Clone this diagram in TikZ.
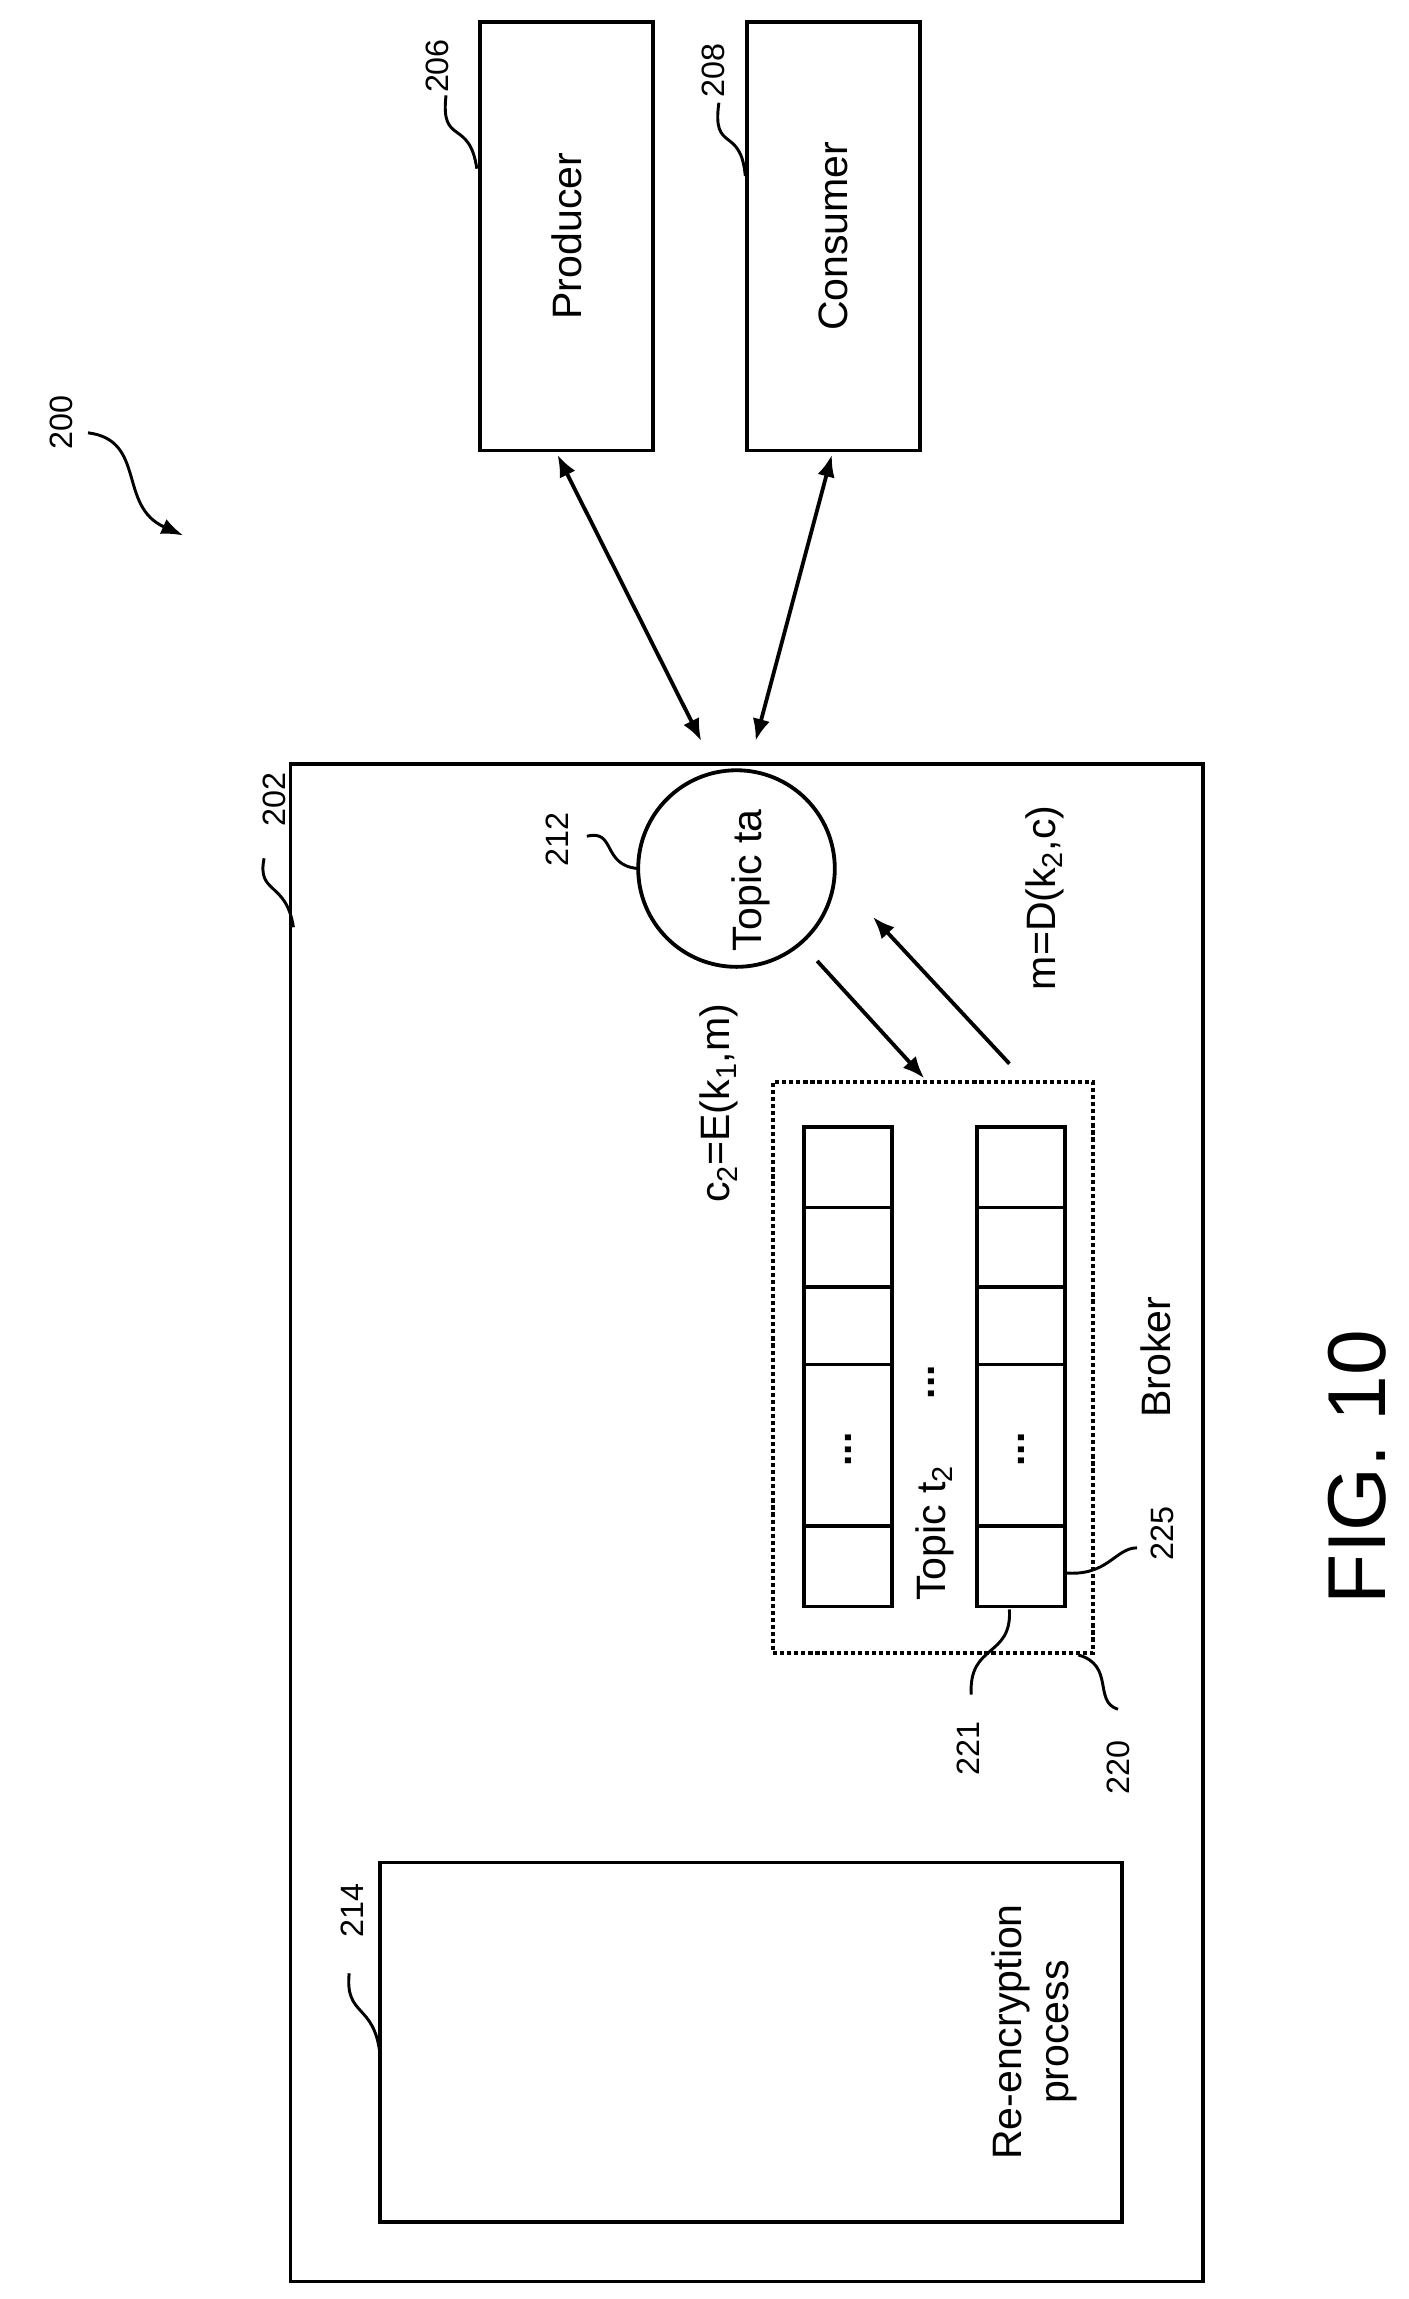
\documentclass[tikz,border=0pt]{standalone}
\usepackage{fontspec}
\setmainfont{Liberation Sans}
\usetikzlibrary{arrows.meta}
\begin{document}
\begin{tikzpicture}[x=1pt,y=-1pt,line width=2.6pt,
 bx/.style={draw,line width=2.6pt},
 lab/.style={rotate=90,font=\fontsize{22}{26}\selectfont},
 txt/.style={rotate=90,font=\fontsize{28}{32}\selectfont},
 sq/.style={line width=2pt},
 arr/.style={line width=2.6pt,-{Latex[length=15pt,width=12pt]}},
 darr/.style={line width=2.6pt,{Latex[length=15pt,width=12pt]}-{Latex[length=15pt,width=12pt]}}]
\useasboundingbox (0,0) rectangle (960,1567);
% outer
\node[bx,minimum width=622pt,minimum height=1034pt,inner sep=0] (b202) at (509,1038) {};
\node[bx,minimum width=118pt,minimum height=292pt,inner sep=0] (prod) at (386,161) {};
\node[txt] at (prod) {Producer};
\node[bx,minimum width=118pt,minimum height=292pt,inner sep=0] (cons) at (568,161) {};
\node[txt] at (cons) {Consumer};
\node[bx,circle,minimum size=134pt,inner sep=0] (topic) at (502,592) {};
\node[txt] at (512,600) {Topic ta};
\coordinate (p1) at (380,310); \coordinate (p2) at (478,505);
\coordinate (c1) at (567,310); \coordinate (c2) at (515,505);
\draw[darr] (p1) -- (p2);
\draw[darr] (c1) -- (c2);
\coordinate (a1) at (557,655); \coordinate (a2) at (630,735);
\coordinate (d1) at (688,725); \coordinate (d2) at (595,625);
\draw[arr] (a1) -- (a2);
\draw[arr] (d1) -- (d2);
\node[txt] at (490,752) {c\textsubscript{2}=E(k\textsubscript{1},m)};
\node[txt] at (712,612) {m=D(k\textsubscript{2},c)};
% broker
\node[draw,dotted,line width=2.8pt,minimum width=218pt,minimum height=389pt,inner sep=0] (b220) at (636,932) {};
\foreach \x/\n in {578/A,696/B}{
 \foreach \ya/\yb [count=\i] in {768/823,823/877,877/930,930/1040,1040/1095}{
  \node[bx,minimum width=60pt,minimum height={\yb-\ya},inner sep=0] (\n\i) at (\x,{(\ya+\yb)/2}) {};
 }
 \node[txt] at (\x,988) {\textbf{...}};
}
\node[txt] at (635,942) {\textbf{...}};
\node[txt] at (637,1045) {Topic t\textsubscript{2}};
\node[txt] at (788,925) {Broker};
% re-encryption
\node[bx,minimum width=506pt,minimum height=245pt,inner sep=0] (b214) at (512,1392) {};
\node[txt,align=center] at (705,1385) {Re-encryption\\process};
\node[rotate=90,font=\fontsize{56}{60}\selectfont] at (925,1000) {FIG. 10};
% labels
\node[lab] (l200) at (42,288) {200};
\draw[sq,-{Latex[length=15pt,width=11pt]}] (60,295) .. controls (100,300) and (80,345) .. (125,365);
\node[lab] (l206) at (298,45) {206};
\draw[sq] (325,115) .. controls (320,80) and (300,100) .. (304,65);
\node[lab] (l208) at (486,48) {208};
\draw[sq] (508,120) .. controls (505,85) and (485,105) .. (490,70);
\node[lab] (l212) at (380,572) {212};
\draw[sq] (435,592) .. controls (410,590) and (420,565) .. (400,570);
\node[lab] (l202) at (187,545) {202};
\draw[sq] (200,632) .. controls (195,600) and (175,610) .. (180,585);
\node[lab] (l214) at (240,1302) {214};
\draw[sq] (259,1400) .. controls (255,1365) and (235,1375) .. (238,1345);
\node[lab] (l221) at (660,1192) {221};
\draw[sq] (688,1097) .. controls (690,1130) and (660,1120) .. (662,1155);
\node[lab] (l225) at (792,1045) {225};
\draw[sq] (725,1072) .. controls (755,1075) and (760,1055) .. (775,1055);
\node[lab] (l220) at (762,1205) {220};
\draw[sq] (735,1128) .. controls (760,1135) and (745,1160) .. (762,1165);
\end{tikzpicture}
\end{document}
